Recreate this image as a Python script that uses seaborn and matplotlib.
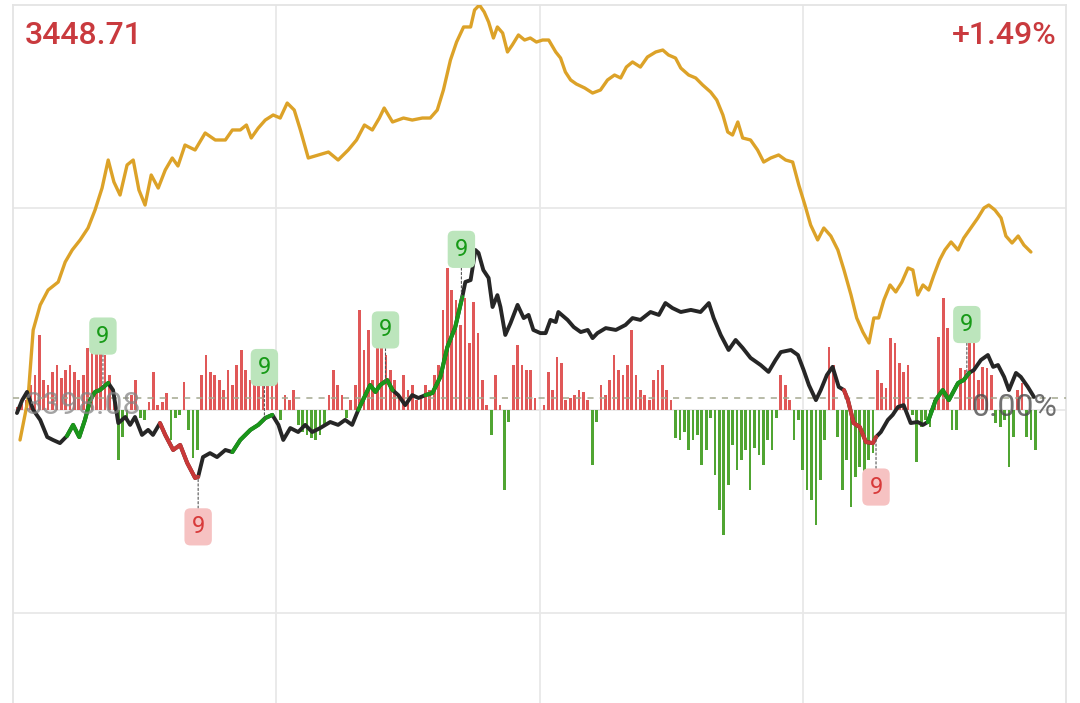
import numpy as np
import pandas as pd
import matplotlib
matplotlib.use("Agg")
import matplotlib.pyplot as plt
import seaborn as sns

# ---------------- data ----------------
base_price = 3398.08          # previous close (0.00%)
top_pct = 1.49                # upper bound of the chart in %

# index price line (minutes since open, price)
price_t = [1.6, 3.4, 4.6, 6.2, 8.0, 10.3, 11.9, 13.5, 15.3, 17.1,
           18.7, 20.3, 21.7, 23.0, 24.4, 26.0, 27.4, 28.7, 30.1, 31.5,
           33.1, 34.7, 36.3, 37.6, 39.2, 41.5, 43.8, 46.1, 48.4, 50.0,
           51.8, 53.2, 54.3, 55.9, 57.5, 59.3, 60.9, 62.5, 64.1, 65.5,
           67.3, 69.6, 71.9, 74.1, 76.4, 78.3, 80.1, 81.9, 83.5, 84.6,
           86.5, 89.0, 91.0, 93.3, 95.1, 96.7, 98.1, 99.7, 101.1, 102.7,
           104.3, 105.2, 106.3, 107.4, 108.4, 109.5, 110.4, 111.6, 112.7, 113.8,
           115.2, 116.6, 117.9, 119.3, 120.7, 122.1, 123.7, 124.8, 125.9, 127.1,
           128.4, 130.3, 132.1, 133.9, 135.5, 137.1, 138.5, 139.8, 141.2, 143.0,
           144.6, 146.5, 148.1, 149.4, 151.0, 152.2, 154.0, 155.6, 157.2, 159.0,
           160.4, 161.8, 162.9, 164.0, 165.2, 166.3, 168.1, 169.7, 171.1, 172.7,
           174.5, 176.1, 177.7, 179.1, 180.5, 181.8, 183.4, 184.8, 186.4, 188.0,
           189.4, 191.0, 192.3, 193.7, 195.1, 196.2, 197.3, 198.5, 199.9, 201.2,
           202.6, 204.0, 205.1, 206.2, 207.4, 208.7, 209.9, 211.2, 212.4, 213.8,
           215.4, 216.7, 218.3, 219.9, 221.3, 222.4, 223.8, 225.2, 226.3, 227.7,
           229.1, 230.4, 232.0]
price_v = [3392.67, 3397.82, 3406.84, 3410.06, 3411.99, 3413.02, 3415.60, 3417.15, 3418.44, 3419.98,
           3422.30, 3425.13, 3428.74, 3425.91, 3424.23, 3428.10, 3428.74, 3424.88, 3422.94, 3426.81,
           3425.13, 3427.45, 3429.00, 3427.97, 3430.67, 3430.03, 3432.22, 3431.32, 3431.32, 3432.61,
           3432.61, 3433.25, 3431.58, 3432.86, 3433.89, 3434.54, 3434.15, 3436.08, 3435.18, 3432.61,
           3429.00, 3429.39, 3429.77, 3428.74, 3430.03, 3431.32, 3433.25, 3432.61, 3434.15, 3435.44,
           3433.64, 3434.15, 3433.89, 3434.15, 3434.15, 3435.18, 3437.76, 3441.62, 3443.94, 3445.88,
           3445.88, 3448.07, 3448.71, 3447.81, 3446.52, 3444.46, 3445.88, 3445.10, 3442.66, 3443.56,
           3444.85, 3444.20, 3444.46, 3443.94, 3444.20, 3444.20, 3442.66, 3441.88, 3440.08, 3439.05,
           3438.53, 3438.02, 3437.37, 3437.76, 3439.05, 3439.69, 3439.31, 3440.72, 3441.37, 3440.72,
           3442.01, 3442.66, 3442.91, 3442.27, 3441.88, 3440.59, 3439.69, 3439.31, 3438.40, 3437.50,
           3436.47, 3434.54, 3432.35, 3431.96, 3433.64, 3431.58, 3431.32, 3430.03, 3428.48, 3429.00,
           3429.39, 3428.74, 3428.48, 3425.52, 3422.94, 3420.37, 3418.44, 3419.98, 3418.95, 3417.15,
           3414.57, 3411.35, 3408.39, 3406.58, 3405.17, 3408.39, 3408.39, 3410.71, 3412.64, 3411.74,
           3413.02, 3414.83, 3414.57, 3411.35, 3412.64, 3411.99, 3413.93, 3415.86, 3417.15, 3418.18,
           3417.15, 3418.69, 3419.98, 3421.27, 3422.56, 3422.94, 3422.30, 3421.27, 3418.95, 3418.05,
           3418.95, 3417.79, 3416.89]

# second (black) line, % change
line_t = [0.9, 2.1, 3.2, 4.6, 6.2, 7.8, 9.1, 10.7, 12.3, 13.7,
          15.1, 16.4, 17.6, 18.7, 19.8, 21.7, 22.8, 24.0, 25.6, 26.7,
          27.8, 29.4, 30.8, 31.9, 33.5, 34.7, 36.5, 38.1, 39.7, 41.5,
          42.2, 43.3, 44.9, 46.5, 48.4, 50.0, 51.8, 54.1, 55.9, 57.5,
          59.1, 60.5, 61.6, 63.2, 65.0, 66.6, 68.2, 70.0, 72.3, 74.1,
          75.7, 77.3, 78.7, 80.3, 81.4, 82.6, 83.7, 85.3, 86.5, 87.8,
          89.4, 91.0, 92.4, 94.0, 95.6, 97.4, 99.0, 100.8, 102.4, 103.1,
          104.3, 105.4, 106.1, 107.2, 108.4, 109.3, 110.4, 111.1, 112.2, 113.4,
          115.0, 116.4, 117.5, 118.6, 120.2, 121.4, 122.5, 123.7, 124.3, 126.4,
          127.8, 129.4, 131.0, 132.1, 133.2, 135.1, 137.4, 139.6, 141.2, 143.0,
          145.3, 147.2, 148.7, 150.3, 152.2, 154.5, 156.7, 158.6, 159.7, 161.3,
          163.1, 164.7, 166.3, 168.1, 170.4, 172.2, 173.8, 175.0, 177.3, 178.9,
          180.2, 181.4, 183.0, 184.1, 185.5, 186.8, 188.2, 189.4, 190.3, 191.6,
          193.0, 194.4, 196.0, 196.7, 197.8, 199.4, 200.5, 201.7, 203.0, 204.6,
          206.2, 207.4, 208.5, 210.3, 211.9, 213.3, 215.4, 216.7, 217.9, 219.0,
          220.6, 222.2, 223.4, 224.5, 225.9, 227.0, 228.6, 229.7, 231.3, 232.7]
line_v = [-0.057, -0.008, 0.023, -0.045, -0.083, -0.148, -0.159, -0.171, -0.144, -0.102,
          -0.148, -0.083, -0.008, 0.023, 0.030, 0.057, 0.030, -0.095, -0.072, -0.102,
          -0.072, -0.140, -0.121, -0.140, -0.095, -0.140, -0.197, -0.178, -0.246, -0.303,
          -0.299, -0.224, -0.209, -0.224, -0.197, -0.205, -0.159, -0.121, -0.102, -0.076,
          -0.064, -0.102, -0.159, -0.114, -0.129, -0.102, -0.129, -0.114, -0.091, -0.102,
          -0.083, -0.102, -0.045, 0.011, 0.049, 0.023, 0.049, 0.068, 0.030, 0.011,
          -0.027, 0.011, 0.000, 0.011, 0.019, 0.080, 0.193, 0.269, 0.383, 0.440,
          0.447, 0.561, 0.550, 0.485, 0.455, 0.345, 0.390, 0.345, 0.239, 0.284,
          0.353, 0.303, 0.315, 0.258, 0.246, 0.246, 0.296, 0.288, 0.326, 0.296,
          0.269, 0.250, 0.258, 0.227, 0.246, 0.265, 0.258, 0.277, 0.303, 0.296,
          0.326, 0.315, 0.360, 0.341, 0.326, 0.334, 0.326, 0.360, 0.303, 0.239,
          0.182, 0.220, 0.190, 0.152, 0.125, 0.099, 0.144, 0.174, 0.182, 0.163,
          0.106, 0.049, -0.008, 0.030, 0.087, 0.118, 0.042, 0.030, -0.008, -0.095,
          -0.110, -0.167, -0.171, -0.148, -0.129, -0.083, -0.064, -0.034, -0.027, -0.095,
          -0.091, -0.102, -0.091, -0.008, 0.030, -0.008, 0.057, 0.068, 0.095, 0.106,
          0.144, 0.163, 0.118, 0.125, 0.080, 0.030, 0.095, 0.080, 0.042, 0.004]

# highlighted runs of the black line (start, end minute)
up_runs = [(12.3, 21.7), (50.0, 59.1), (78.7, 86.5), (94.0, 102.4), (208.5, 217.9)]
down_runs = [(33.5, 42.2), (189.4, 196.7)]
# "9" signal tags
up_tags = [20.5, 57.3, 84.9, 102.2, 217.4]
down_tags = [42.2, 196.7]
tag_text = "9"

# per-minute bars (positive red, negative green)
bar_v = [0, 3, 6, 10, 25, 35, 75, 30, 25, 38,
         45, 32, 40, 45, 38, 30, 35, 62, 68, 70,
         78, 55, 35, 10, -50, -27, -12, 15, 30, -8,
         -10, 8, 38, 5, 8, 17, -30, -8, -5, 28,
         -20, -48, -40, 35, 55, 38, 35, 30, 20, 40,
         25, 45, 60, 40, 30, 35, 45, 55, 60, 45,
         30, -10, 15, 10, 20, -15, -22, -25, -28, -30,
         -25, -15, 15, 40, 25, 15, -8, 10, 25, 100,
         60, 80, 30, 70, 90, 55, 40, 30, 15, 35,
         20, 25, 10, 15, 25, 20, 35, 45, 100, 142,
         120, 110, 85, 112, 67, 108, 77, 30, 5, -25,
         35, 5, -80, -12, 45, 65, 45, 40, 40, 12,
         0, 5, 38, 20, 53, 47, 10, 12, 15, 20,
         18, 10, -55, -12, 25, 15, 30, 55, 40, 35,
         45, 80, 35, 20, 15, 10, 30, 40, 45, 20,
         10, -28, -30, -22, -40, -30, -25, -55, -40, -8,
         -65, -100, -125, -75, -35, -60, -50, -40, -80, -38,
         -45, -55, -30, -40, -8, 35, 25, 10, -30, -10,
         -60, -80, -90, -115, -70, -30, 63, 45, -27, -80,
         -50, -97, -67, -57, -67, -50, -43, 40, 27, 22,
         72, 67, 47, 38, 45, -5, -52, -17, -10, -17,
         10, 73, 112, 82, -20, -20, 42, 40, 67, 67,
         30, 43, 42, 35, -13, -17, -10, -57, -27, 20,
         27, -27, -30, -40]
bar_t = list(range(len(bar_v)))

# ---------------- styling ----------------
sns.set_theme(style="white")
plt.rcParams["font.family"] = ["Roboto", "DejaVu Sans"]

ORANGE = "#dca228"
BLACK = "#262626"
UPC = "#1a961a"
DNC = "#c93838"
BAR_UP = "#e05858"
BAR_DN = "#50a532"
GRID = "#e8e8e8"

W, H = 1080, 703
fig = plt.figure(figsize=(W / 100, H / 100), dpi=100)
left, right, top, bottom = 13, 1066, 5, 815
pos = [left / W, (H - bottom) / H, (right - left) / W, (bottom - top) / H]

axb = fig.add_axes(pos)
ax = fig.add_axes(pos)
ax.patch.set_visible(False)

# background axes: grid + bars
axb.set_xlim(0, 240)
axb.set_ylim(-405, 405)
axb.set_xticks([60, 120, 180])
axb.set_yticks([-202.5, 0, 202.5])
axb.grid(True, color=GRID, lw=1.3)
axb.set_axisbelow(True)
axb.tick_params(length=0, labelbottom=False, labelleft=False)
for s in axb.spines.values():
    s.set_color("#e4e4e4")
    s.set_linewidth(1.3)

bt = np.array(bar_t)
bv = np.array(bar_v)
axb.bar(bt[bv >= 0], bv[bv >= 0], width=0.62, color=BAR_UP, linewidth=0, zorder=2)
axb.bar(bt[bv < 0], bv[bv < 0], width=0.62, color=BAR_DN, linewidth=0, zorder=2)

# foreground axes: lines (in % change)
ax.set_xlim(0, 240)
ax.set_ylim(-1.581, top_pct)
ax.set_axis_off()

ax.axhline(0, color="#a4a890", lw=1.1, ls=(0, (4, 4)), zorder=1)

price_df = pd.DataFrame({"t": price_t, "pct": (np.array(price_v) / base_price - 1) * 100})
sns.lineplot(data=price_df, x="t", y="pct", ax=ax, color=ORANGE, lw=2.4,
             estimator=None, sort=False, zorder=3)

line_df = pd.DataFrame({"t": line_t, "v": line_v})
sns.lineplot(data=line_df, x="t", y="v", ax=ax, color=BLACK, lw=2.8,
             estimator=None, sort=False, zorder=4)
for runs, col in ((up_runs, UPC), (down_runs, DNC)):
    for a, b in runs:
        seg = line_df[(line_df.t >= a - 1e-9) & (line_df.t <= b + 1e-9)]
        sns.lineplot(data=seg, x="t", y="v", ax=ax, color=col, lw=2.9,
                     estimator=None, sort=False, zorder=5)

# tags
for tags, fc, tc, dy in ((up_tags, "#bce5bc", "#179a17", 37),
                         (down_tags, "#f6c2c2", "#d83a3a", -36)):
    for t in tags:
        y = np.interp(t, line_t, line_v)
        ax.annotate(tag_text, xy=(t, y), xytext=(0, dy), textcoords="offset points",
                    ha="center", va="center", fontsize=17, color=tc, zorder=7,
                    bbox=dict(boxstyle="round,pad=0.3,rounding_size=0.25",
                              fc=fc, ec="none"),
                    arrowprops=dict(arrowstyle="-", color="#555555", lw=0.8,
                                    ls=(0, (2, 2)), shrinkA=0, shrinkB=0))

# text labels
top_price = base_price * (1 + top_pct / 100)
fig.text(25 / W, 1 - 36 / H, f"{top_price:.2f}", ha="left", va="center",
         fontsize=23, color="#c93a3e", fontweight="medium")
fig.text(1057 / W, 1 - 36 / H, f"+{top_pct:.2f}%", ha="right", va="center",
         fontsize=23, color="#c93a3e", fontweight="medium")
fig.text(25 / W, 1 - 406 / H, f"{base_price:.2f}", ha="left", va="center",
         fontsize=23, color="#858585", alpha=0.75, zorder=10)
fig.text(1057 / W, 1 - 408 / H, "0.00%", ha="right", va="center",
         fontsize=23, color="#4d4d4d", alpha=0.8, zorder=10)

fig.savefig("out.png", dpi=100, facecolor="white")
